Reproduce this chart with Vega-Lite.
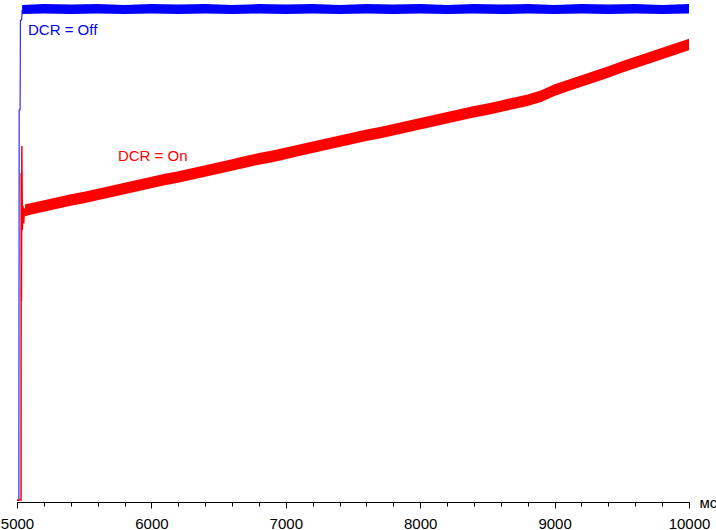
{
  "$schema": "https://vega.github.io/schema/vega-lite/v6.json",
  "width": 672,
  "height": 502,
  "autosize": {"type": "none"},
  "padding": {"left": 17, "right": 27, "top": 0, "bottom": 28},
  "background": "white",
  "config": {"view": {"stroke": null}},
  "datasets": {
    "blueStart": [
      {"t": 5000, "v": 0.3}, {"t": 5014, "v": 0.3}, {"t": 5016, "v": 78.1}, {"t": 5023, "v": 78.1},
      {"t": 5025, "v": 96.0}, {"t": 5035, "v": 96.0}, {"t": 5038, "v": 98.0}
    ],
    "blueBand": [
      {"t": 5038, "lo": 97.2, "hi": 99.0}, {"t": 5200, "lo": 97.3, "hi": 99.2}, {"t": 5400, "lo": 97.2, "hi": 99.1},
      {"t": 5600, "lo": 97.3, "hi": 99.2}, {"t": 5800, "lo": 97.2, "hi": 99.0}, {"t": 6000, "lo": 97.3, "hi": 99.2},
      {"t": 6200, "lo": 97.2, "hi": 99.1}, {"t": 6400, "lo": 97.3, "hi": 99.2}, {"t": 6600, "lo": 97.2, "hi": 99.0},
      {"t": 6800, "lo": 97.3, "hi": 99.2}, {"t": 7000, "lo": 97.2, "hi": 99.1}, {"t": 7200, "lo": 97.3, "hi": 99.2},
      {"t": 7400, "lo": 97.2, "hi": 99.0}, {"t": 7600, "lo": 97.3, "hi": 99.2}, {"t": 7800, "lo": 97.2, "hi": 99.1},
      {"t": 8000, "lo": 97.3, "hi": 99.2}, {"t": 8200, "lo": 97.2, "hi": 99.0}, {"t": 8400, "lo": 97.3, "hi": 99.2},
      {"t": 8600, "lo": 97.2, "hi": 99.1}, {"t": 8800, "lo": 97.3, "hi": 99.2}, {"t": 9000, "lo": 97.2, "hi": 99.0},
      {"t": 9200, "lo": 97.3, "hi": 99.2}, {"t": 9400, "lo": 97.2, "hi": 99.1}, {"t": 9600, "lo": 97.3, "hi": 99.2},
      {"t": 9800, "lo": 97.2, "hi": 99.0}, {"t": 10000, "lo": 97.3, "hi": 99.2}
    ],
    "redStart": [
      {"t": 5000, "v": 0.4}, {"t": 5030, "v": 0.4}, {"t": 5031, "v": 65.5}, {"t": 5033, "v": 40.0},
      {"t": 5036, "v": 70.9}, {"t": 5040, "v": 54.2}, {"t": 5044, "v": 59.0}, {"t": 5050, "v": 55.5},
      {"t": 5056, "v": 58.5}, {"t": 5060, "v": 57.5}
    ],
    "redBand": [
      {"t": 5060, "lo": 56.9, "hi": 59.3}, {"t": 5100, "lo": 57.2, "hi": 59.5}, {"t": 5200, "lo": 57.8, "hi": 60.1},
      {"t": 5300, "lo": 58.4, "hi": 60.7}, {"t": 5400, "lo": 59.0, "hi": 61.3}, {"t": 5500, "lo": 59.5, "hi": 61.8},
      {"t": 5600, "lo": 60.1, "hi": 62.4}, {"t": 5700, "lo": 60.7, "hi": 63.0}, {"t": 5800, "lo": 61.3, "hi": 63.6},
      {"t": 5900, "lo": 61.9, "hi": 64.2}, {"t": 6000, "lo": 62.5, "hi": 64.8}, {"t": 6100, "lo": 63.1, "hi": 65.4},
      {"t": 6200, "lo": 63.6, "hi": 65.9}, {"t": 6300, "lo": 64.2, "hi": 66.5}, {"t": 6400, "lo": 64.8, "hi": 67.1},
      {"t": 6500, "lo": 65.4, "hi": 67.7}, {"t": 6600, "lo": 66.0, "hi": 68.3}, {"t": 6700, "lo": 66.6, "hi": 68.9},
      {"t": 6800, "lo": 67.2, "hi": 69.5}, {"t": 6900, "lo": 67.7, "hi": 70.0}, {"t": 7000, "lo": 68.3, "hi": 70.6},
      {"t": 7100, "lo": 68.9, "hi": 71.2}, {"t": 7200, "lo": 69.5, "hi": 71.8}, {"t": 7300, "lo": 70.1, "hi": 72.4},
      {"t": 7400, "lo": 70.7, "hi": 73.0}, {"t": 7500, "lo": 71.3, "hi": 73.6}, {"t": 7600, "lo": 71.9, "hi": 74.2},
      {"t": 7700, "lo": 72.4, "hi": 74.7}, {"t": 7800, "lo": 73.0, "hi": 75.3}, {"t": 7900, "lo": 73.6, "hi": 75.9},
      {"t": 8000, "lo": 74.2, "hi": 76.5}, {"t": 8100, "lo": 74.8, "hi": 77.1}, {"t": 8200, "lo": 75.4, "hi": 77.7},
      {"t": 8300, "lo": 76.0, "hi": 78.3}, {"t": 8400, "lo": 76.6, "hi": 78.9}, {"t": 8500, "lo": 77.1, "hi": 79.4},
      {"t": 8600, "lo": 77.7, "hi": 80.0}, {"t": 8700, "lo": 78.3, "hi": 80.6}, {"t": 8800, "lo": 78.9, "hi": 81.2},
      {"t": 8900, "lo": 79.7, "hi": 82.0}, {"t": 9000, "lo": 80.9, "hi": 83.2}, {"t": 9100, "lo": 81.8, "hi": 84.1},
      {"t": 9200, "lo": 82.7, "hi": 85.0}, {"t": 9300, "lo": 83.6, "hi": 85.9}, {"t": 9400, "lo": 84.5, "hi": 86.8},
      {"t": 9500, "lo": 85.5, "hi": 87.8}, {"t": 9600, "lo": 86.4, "hi": 88.7}, {"t": 9700, "lo": 87.3, "hi": 89.6},
      {"t": 9800, "lo": 88.2, "hi": 90.5}, {"t": 9900, "lo": 89.1, "hi": 91.4}, {"t": 10000, "lo": 90.0, "hi": 92.3}
    ],
    "labels": [
      {"t": 5082, "v": 93.0, "text": "DCR = Off", "series": "off"},
      {"t": 5751, "v": 68.0, "text": "DCR = On", "series": "on"}
    ]
  },
  "resolve": {"axis": {"x": "independent"}},
  "layer": [
    {
      "data": {"name": "blueBand"},
      "mark": {"type": "area", "color": "#0000FF", "opacity": 1},
      "encoding": {
        "x": {
          "field": "t", "type": "quantitative",
          "scale": {"domain": [5000, 10000], "nice": false, "zero": false},
          "axis": {
            "orient": "bottom",
            "values": [5000,5200,5400,5600,5800,6000,6200,6400,6600,6800,7000,7200,7400,7600,7800,8000,8200,8400,8600,8800,9000,9200,9400,9600,9800,10000],
            "ticks": true, "tickSize": 4, "tickWidth": 1, "tickOpacity": 1, "labels": false, "grid": false, "title": null,
            "domain": true, "domainColor": "#000000", "domainWidth": 1, "tickColor": "#000000"
          }
        },
        "y": {"field": "lo", "type": "quantitative", "scale": {"domain": [0, 100], "nice": false}, "axis": null},
        "y2": {"field": "hi"}
      }
    },
    {
      "data": {"name": "blueStart"},
      "mark": {"type": "line", "color": "#0000FF", "strokeWidth": 1},
      "encoding": {
        "x": {
          "field": "t", "type": "quantitative",
          "axis": {
            "orient": "bottom",
            "values": [5000, 6000, 7000, 8000, 9000, 10000],
            "format": "d", "ticks": true, "tickSize": 6, "tickWidth": 1, "tickOpacity": 1,
            "domain": false, "tickColor": "#000000", "labelColor": "#000000",
            "labelFont": "Liberation Sans", "labelFontSize": 15, "labelPadding": 8,
            "labelOverlap": false, "labelFlush": false, "grid": false,
            "title": "мс", "titleX": 682, "titleY": 5, "titleAlign": "left", "titleBaseline": "alphabetic",
            "titleFont": "Liberation Sans", "titleFontSize": 15, "titleFontWeight": "normal", "titleColor": "#000000"
          }
        },
        "y": {"field": "v", "type": "quantitative", "axis": null}
      }
    },
    {
      "data": {"name": "redBand"},
      "mark": {"type": "area", "color": "#FF0000", "opacity": 1},
      "encoding": {
        "x": {"field": "t", "type": "quantitative", "axis": null},
        "y": {"field": "lo", "type": "quantitative", "axis": null},
        "y2": {"field": "hi"}
      }
    },
    {
      "data": {"name": "redStart"},
      "mark": {"type": "line", "color": "#FF0000", "strokeWidth": 1.5},
      "encoding": {
        "x": {"field": "t", "type": "quantitative", "axis": null},
        "y": {"field": "v", "type": "quantitative", "axis": null}
      }
    },
    {
      "data": {"name": "labels"},
      "mark": {"type": "text", "align": "left", "baseline": "alphabetic", "font": "Liberation Sans", "fontSize": 15},
      "encoding": {
        "x": {"field": "t", "type": "quantitative", "axis": null},
        "y": {"field": "v", "type": "quantitative", "axis": null},
        "text": {"field": "text"},
        "color": {"field": "series", "type": "nominal", "scale": {"domain": ["off", "on"], "range": ["#0000FF", "#FF0000"]}, "legend": null}
      }
    }
  ]
}
